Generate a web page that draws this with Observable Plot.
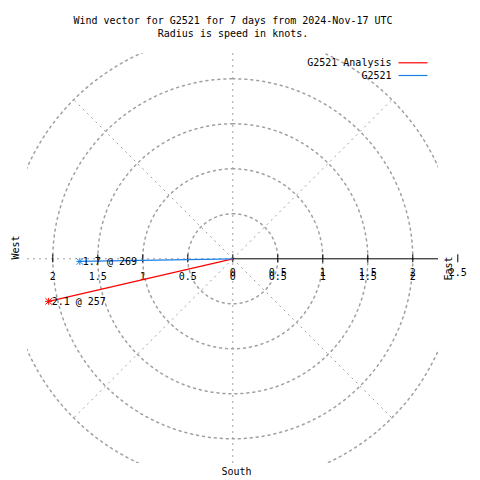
<!DOCTYPE html>
<html><head><meta charset="utf-8">
<script src="https://cdn.jsdelivr.net/npm/d3@7"></script>
<script src="https://cdn.jsdelivr.net/npm/@observablehq/plot@0.6"></script>
<style>body{margin:0;background:#fff}</style>
</head><body><div id="chart"></div>
<script>
const title = "Wind vector for G2521 for 7 days from 2024-Nov-17 UTC";
const subtitle = "Radius is speed in knots.";
const seriesNames = ["G2521 Analysis", "G2521"];
const speeds = [2.1, 1.7];
const directions = [257, 269];
const seriesColors = ["#ff0000", "#1a80e6"];
const ringRadii = [0.5, 1, 1.5, 2, 2.5];
const spokeAngles = [45, 135, 225, 315];
const rightTicks = [0, 0.5, 1, 1.5, 2, 2.5];
const rightTicks2 = [0, 0.5, 1, 1.5, 2];
const leftTicks = [0.5, 1, 1.5, 2];

const W = 480, H = 480, mL = 27, mR = 42, mT = 53, mB = 17;
const xDomain = [-2.2811, 2.2856];
const yDomain = [-2.2744, 2.2811];
const xs = d3.scaleLinear(xDomain, [mL, W - mR]);
const ys = d3.scaleLinear(yDomain, [H - mB, mT]);
const unit = xs(1) - xs(0);
const rad = d => d * Math.PI / 180;

const vectors = seriesNames.map((name, i) => ({
  name, speed: speeds[i], dir: directions[i], color: seriesColors[i],
  x: speeds[i] * Math.sin(rad(directions[i])),
  y: speeds[i] * Math.cos(rad(directions[i]))
}));
// ring outlines (grid geometry)
const ringPts = ringRadii.flatMap(r => d3.range(0, 361, 1).map(a => ({r, x: r * Math.sin(rad(a)), y: r * Math.cos(rad(a))})));
const spokes = spokeAngles.map(a => ({x: 2.5 * Math.sin(rad(a)), y: 2.5 * Math.cos(rad(a))}));
const legendRows = seriesNames.map((name, i) => ({name, color: seriesColors[i], i}));

const grey = "#a0a0a0", dash = "2,4";
const font = "DejaVu Sans Mono";
const T = {fill: "black", fontSize: 10, lineAnchor: "middle"};

const chart = Plot.plot({
  width: W, height: H,
  marginLeft: mL, marginRight: mR, marginTop: mT, marginBottom: mB,
  x: {domain: xDomain, axis: null},
  y: {domain: yDomain, axis: null},
  style: {fontFamily: font, fontSize: "10px", background: "white", overflow: "visible"},
  marks: [
    // grid circles
    Plot.line(ringPts, {x: "x", y: "y", z: "r", stroke: grey, strokeDasharray: dash, clip: true}),
    // spokes
    Plot.ruleX([0], {stroke: grey, strokeDasharray: dash}),
    Plot.ruleY([0], {x1: xDomain[0], x2: 0, stroke: grey, strokeDasharray: dash}),
    Plot.link(spokes, {x1: 0, y1: 0, x2: "x", y2: "y", stroke: grey, strokeDasharray: dash}),
    // solid east axis
    Plot.ruleY([0], {x1: 0, x2: xDomain[1], stroke: "black"}),
    // ticks
    Plot.ruleX(rightTicks, {x: d => d, y1: -4 / unit, y2: 4 / unit, stroke: "black"}),
    Plot.ruleX(leftTicks, {x: d => -d, y1: -4 / unit, y2: 4 / unit, stroke: "black"}),
    // tick labels (doubled, as in the reference)
    Plot.text(rightTicks, {x: d => d, y: 0, text: d => String(d), dy: 14, ...T}),
    Plot.text(rightTicks2, {x: d => d, y: 0, text: d => String(d), dy: 18, ...T}),
    Plot.text(leftTicks, {x: d => -d, y: 0, text: d => String(d), dy: 18, ...T}),
    // vectors
    Plot.link(vectors, {x1: 0, y1: 0, x2: "x", y2: "y", stroke: "color", strokeWidth: 1.2}),
    Plot.dot(vectors, {x: "x", y: "y", symbol: "plus", r: 2.4, stroke: "color", strokeWidth: 1}),
    Plot.dot(vectors, {x: "x", y: "y", symbol: "times", r: 3, stroke: "color", strokeWidth: 1}),
    Plot.text(vectors, {x: "x", y: "y", text: d => `${d.speed} @ ${d.dir}`, textAnchor: "start", dx: 3, ...T}),
    // compass labels
    Plot.text(["West"], {frameAnchor: "left", text: d => d, rotate: -90, dx: -12, dy: 1, ...T}),
    Plot.text(["East"], {frameAnchor: "right", text: d => d, rotate: -90, dx: 10, dy: -2, ...T}),
    Plot.text(["South"], {frameAnchor: "bottom", text: d => d, dx: 3.5, dy: 8, ...T}),
    // titles
    Plot.text([title], {frameAnchor: "top", text: d => d, dy: -33, ...T}),
    Plot.text([subtitle], {frameAnchor: "top", text: d => d, dy: -20, ...T}),
    // legend
    Plot.text(legendRows.filter(d => d.i === 0), {frameAnchor: "top-left", text: "name", textAnchor: "end", dx: 364, dy: 9.5, ...T}),
    Plot.text(legendRows.filter(d => d.i === 1), {frameAnchor: "top-left", text: "name", textAnchor: "end", dx: 364, dy: 22, ...T}),
    Plot.link(legendRows, {x1: xs.invert(398), x2: xs.invert(427), y1: d => ys.invert(62.3 + 12.7 * d.i), y2: d => ys.invert(62.3 + 12.7 * d.i), stroke: "color", strokeWidth: 1.2})
  ]
});
document.getElementById("chart").appendChild(chart);
</script>
</body></html>
